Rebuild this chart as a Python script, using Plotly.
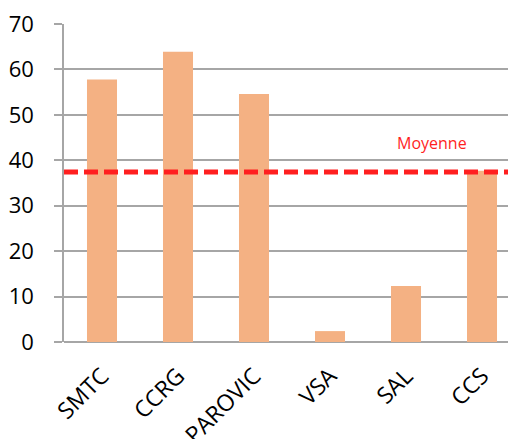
import plotly.graph_objects as go

# Scores per structure
categories = ["SMTC", "CCRG", "PAROVIC", "VSA", "SAL", "CCS"]
values = [57.8, 63.9, 54.6, 2.4, 12.3, 37.7]
moyenne = 37.4
y_ticks = [0, 10, 20, 30, 40, 50, 60, 70]

BAR_COLOR = "#F4B183"
GRID_COLOR = "#A6A6A6"
MEAN_COLOR = "#FF1F1F"
FONT = "Open Sans"

fig = go.Figure()
fig.add_trace(go.Bar(
    x=categories,
    y=values,
    marker=dict(color=BAR_COLOR, line=dict(width=0)),
    width=0.395,
    hoverinfo="x+y",
))

# Average line across the plot
fig.add_shape(
    type="line", xref="paper", yref="y",
    x0=0, x1=1, y0=moyenne, y1=moyenne,
    line=dict(color=MEAN_COLOR, width=5, dash="14px,6px"),
    layer="above",
)
fig.add_annotation(
    x=4.34, y=moyenne + 6.4, xref="x", yref="y",
    text="Moyenne", showarrow=False,
    font=dict(family=FONT, size=16, color=MEAN_COLOR),
)

fig.update_layout(
    width=508, height=439,
    margin=dict(l=64, r=0, t=24, b=97, autoexpand=False),
    paper_bgcolor="white", plot_bgcolor="white",
    showlegend=False,
    font=dict(family=FONT, color="#000000"),
)
fig.update_xaxes(
    range=[-0.5, 5.342],
    tickangle=-45,
    tickfont=dict(size=23, family=FONT),
    ticklabelstandoff=15,
    showgrid=False,
    showline=False,
    ticks="",
    automargin=False,
    zeroline=False,
)
fig.update_yaxes(
    range=[0, 70],
    tickvals=y_ticks,
    tickfont=dict(size=22, family=FONT),
    ticklabelstandoff=16,
    showgrid=True, gridcolor=GRID_COLOR, gridwidth=1.5,
    showline=True, linecolor=GRID_COLOR, linewidth=1.5,
    ticks="outside", ticklen=8, tickcolor=GRID_COLOR, tickwidth=1.5,
    zeroline=True, zerolinecolor=GRID_COLOR, zerolinewidth=1.5,
    automargin=False,
)

fig.write_html("out.html")
